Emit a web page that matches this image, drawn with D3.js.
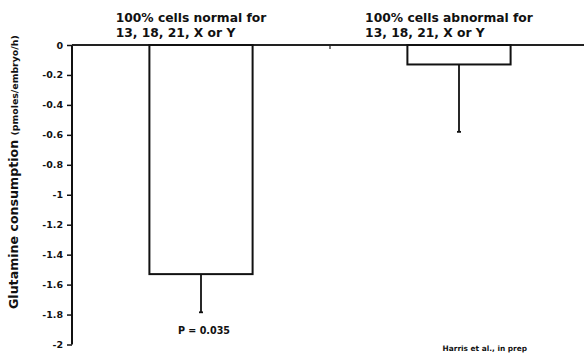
<!DOCTYPE html>
<html>
<head>
<meta charset="utf-8">
<script src="https://cdn.jsdelivr.net/npm/d3@7"></script>
<style>
  html, body { margin: 0; padding: 0; background: #fff; }
  svg { display: block; font-family: "DejaVu Sans", Verdana, sans-serif; }
</style>
</head>
<body>
<svg id="chart" width="584" height="354"></svg>
<script>
// Glutamine consumption by embryo chromosome status
const categories = ["normal", "abnormal"];
const titleLine1 = ["100% cells normal for", "100% cells abnormal for"];
const titleLine2 = ["13, 18, 21, X or Y", "13, 18, 21, X or Y"];
const means = [-1.53, -0.13];
const errorEnds = [-1.785, -0.58];
const yTicks = [0, -0.2, -0.4, -0.6, -0.8, -1, -1.2, -1.4, -1.6, -1.8, -2];
const pLabel = "P = 0.035";
const sourceLabel = "Harris et al., in prep";

const svg = d3.select("#chart");
const ink = "#111";

const x = d3.scaleBand()
  .domain(categories)
  .range([72, 588])
  .paddingInner(0.6)
  .paddingOuter(0.3);

const y = d3.scaleLinear()
  .domain([0, -2])
  .range([45, 344.5]);

// y axis
const yAxis = svg.append("g")
  .attr("transform", "translate(72,0)")
  .call(d3.axisLeft(y).tickValues(yTicks).tickSize(5).tickPadding(4)
    .tickFormat(d => d === 0 ? "0" : String(d)));
yAxis.select(".domain").attr("stroke", ink).attr("stroke-width", 2)
  .attr("d", `M0,${y(0)}V${y(-2)}`);
yAxis.selectAll(".tick line").attr("stroke", ink).attr("stroke-width", 1.5);
yAxis.selectAll(".tick text")
  .attr("fill", ink)
  .style("font-family", "'DejaVu Sans', sans-serif")
  .style("font-size", "9.5px")
  .style("font-weight", "bold");

// zero baseline with category divider ticks
const step = x.step();
const dividers = categories.map((c, i) => x(c) - x.paddingOuter() * step + (i + 1) * 0)
  .map((v, i) => 72 + (i + 1) * step);
svg.append("line")
  .attr("x1", 72).attr("x2", 584)
  .attr("y1", y(0)).attr("y2", y(0))
  .attr("stroke", "#222").attr("stroke-width", 2);
svg.selectAll(".divider")
  .data(dividers)
  .join("line")
  .attr("class", "divider")
  .attr("x1", d => d).attr("x2", d => d)
  .attr("y1", y(0)).attr("y2", y(0) + 4)
  .attr("stroke", "#222").attr("stroke-width", 1.2);

// error bars (drawn under the bars)
const eg = svg.append("g");
categories.forEach((c, i) => {
  const cx = x(c) + x.bandwidth() / 2;
  eg.append("line")
    .attr("x1", cx).attr("x2", cx)
    .attr("y1", y(means[i])).attr("y2", y(errorEnds[i]))
    .attr("stroke", ink).attr("stroke-width", 1.8);
  eg.append("line")
    .attr("x1", cx - 2).attr("x2", cx + 2)
    .attr("y1", y(errorEnds[i])).attr("y2", y(errorEnds[i]))
    .attr("stroke", ink).attr("stroke-width", 1.8);
});

// bars
svg.selectAll(".bar")
  .data(categories)
  .join("rect")
  .attr("class", "bar")
  .attr("x", d => x(d))
  .attr("y", y(0))
  .attr("width", x.bandwidth())
  .attr("height", (d, i) => y(means[i]) - y(0))
  .attr("fill", "#fff")
  .attr("stroke", ink)
  .attr("stroke-width", 2);

// category titles, left-aligned as a block above each bar
categories.forEach((c, i) => {
  const cx = x(c) + x.bandwidth() / 2 - 10;
  const t = svg.append("text")
    .attr("fill", ink)
    .style("font-size", "12.3px")
    .style("font-weight", "bold");
  const l1 = t.append("tspan").attr("y", 22).text(titleLine1[i]);
  const w = l1.node().getComputedTextLength();
  const left = cx - w / 2;
  l1.attr("x", left);
  t.append("tspan").attr("x", left).attr("y", 37).text(titleLine2[i]);
});

// y axis title
const yt = svg.append("text")
  .attr("transform", "translate(17.5,309) rotate(-90)")
  .attr("fill", ink)
  .style("font-weight", "bold");
yt.append("tspan").style("font-size", "12.6px").text("Glutamine consumption ");
yt.append("tspan").style("font-size", "9.4px").text("(pmoles/embryo/h)");

// significance label
svg.append("text")
  .attr("x", x(categories[0]) + x.bandwidth() / 2 + 3)
  .attr("y", y(errorEnds[0]) + 22)
  .attr("text-anchor", "middle")
  .attr("fill", ink)
  .style("font-size", "9.6px")
  .style("font-weight", "bold")
  .text(pLabel);

// source note
svg.append("text")
  .attr("x", 527)
  .attr("y", 351)
  .attr("text-anchor", "end")
  .attr("fill", ink)
  .style("font-size", "7.4px")
  .style("font-weight", "bold")
  .text(sourceLabel);
</script>
</body>
</html>
